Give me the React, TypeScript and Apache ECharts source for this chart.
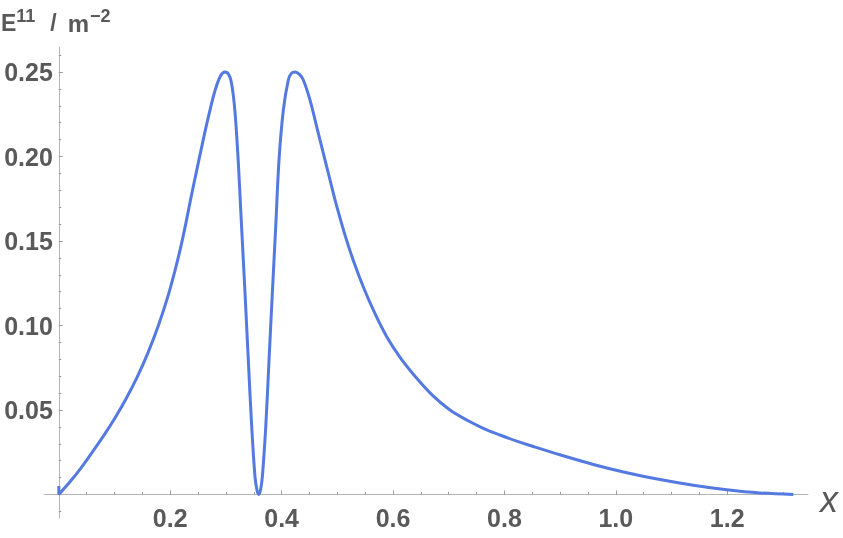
import React, { useEffect, useRef } from "react";
import * as echarts from "echarts";

const curveX = [
  0, 0, 0.02, 0.04, 0.06, 0.08, 0.1, 0.12, 0.14, 0.16, 0.18, 0.2, 0.22, 0.24, 0.26, 0.27,
  0.28, 0.29, 0.2984, 0.305, 0.31, 0.316, 0.322, 0.3266, 0.3312, 0.3343, 0.3402, 0.3463,
  0.3522, 0.3558, 0.3589, 0.362, 0.3654, 0.3715, 0.3774, 0.3833, 0.3894, 0.3953, 0.4031,
  0.412, 0.4175, 0.4241, 0.432, 0.439, 0.451, 0.463, 0.4749, 0.4869, 0.4989, 0.5138, 0.5287,
  0.5467, 0.5677, 0.5887, 0.6126, 0.6426, 0.6724, 0.7023, 0.7323, 0.7621, 0.7921, 0.8221,
  0.8519, 0.8998, 0.9596, 1.0196, 1.0794, 1.1391, 1.1991, 1.2589, 1.3187,
];
const curveY = [
  0.005, 0, 0.0075, 0.0158, 0.025, 0.0345, 0.0448, 0.0562, 0.069, 0.0838, 0.1012, 0.122,
  0.148, 0.18, 0.211, 0.2255, 0.2385, 0.2475, 0.25, 0.2485, 0.2435, 0.2275, 0.198, 0.1683,
  0.1388, 0.1191, 0.0796, 0.0401, 0.0105, 0.0025, 0, 0.0025, 0.0105, 0.0401, 0.0796, 0.1191,
  0.1585, 0.1979, 0.2275, 0.2453, 0.2492, 0.25, 0.2486, 0.2453, 0.2334, 0.2176, 0.2019,
  0.1861, 0.1706, 0.1535, 0.1385, 0.1228, 0.107, 0.0934, 0.0812, 0.0688, 0.0582, 0.05,
  0.0441, 0.0392, 0.0352, 0.0316, 0.0284, 0.0235, 0.0178, 0.0129, 0.0089, 0.0055, 0.0028,
  0.0009, 0,
];

const xMajor = [0.2, 0.4, 0.6, 0.8, 1.0, 1.2];
const xMinor = [0.05, 0.1, 0.15, 0.25, 0.3, 0.35, 0.45, 0.5, 0.55, 0.65, 0.7, 0.75, 0.85, 0.9, 0.95, 1.05, 1.1, 1.15, 1.25, 1.3];
const yMajor = [0.05, 0.1, 0.15, 0.2, 0.25];
const yMinor = [-0.01, 0.01, 0.02, 0.03, 0.04, 0.06, 0.07, 0.08, 0.09, 0.11, 0.12, 0.13, 0.14, 0.16, 0.17, 0.18, 0.19, 0.21, 0.22, 0.23, 0.24, 0.26];

const X_MIN = -0.0266;
const X_MAX = 1.345;
const Y_MIN = -0.0139;
const Y_MAX = 0.2648;

const FONT = "Liberation Sans";
const LABEL_COLOR = "#595959";
const AXIS_COLOR = "#b4b4b4";
const TICK_COLOR = "#9a9a9a";
const LINE_COLOR = "#5479e0";

// grid layout (pixels)
const GRID_LEFT = 44;
const GRID_RIGHT = 35;
const GRID_TOP = 47;
const GRID_BOTTOM = 20;
const X_AXIS_OFFSET = -23.5; // move x axis up to y = 0
const Y_AXIS_OFFSET = -14.8; // move y axis right to x = 0

export default function App() {
  const ref = useRef<HTMLDivElement>(null);
  useEffect(() => {
    if (!ref.current) return;
    const chart = echarts.init(ref.current, null, { renderer: "svg" });
    const data = curveX.map((x, i) => [x, curveY[i]]);
    const baseX = {
      type: "value",
      min: X_MIN,
      max: X_MAX,
      offset: X_AXIS_OFFSET,
      position: "bottom",
      splitLine: { show: false },
    };
    const baseY = {
      type: "value",
      min: Y_MIN,
      max: Y_MAX,
      offset: Y_AXIS_OFFSET,
      position: "left",
      splitLine: { show: false },
    };
    chart.setOption({
      animation: false,
      grid: { left: GRID_LEFT, right: GRID_RIGHT, top: GRID_TOP, bottom: GRID_BOTTOM, containLabel: false, outerBoundsMode: "none" },
      xAxis: [
        {
          ...baseX,
          axisLine: { show: true, onZero: false, lineStyle: { color: AXIS_COLOR, width: 1 } },
          axisTick: { show: true, inside: true, length: 4, customValues: xMajor, lineStyle: { color: TICK_COLOR } },
          axisLabel: {
            show: true,
            customValues: xMajor,
            formatter: (v: number) => v.toFixed(1),
            margin: 11,
            fontSize: 25,
            fontWeight: "bold",
            fontFamily: FONT,
            color: LABEL_COLOR,
          },
        },
        {
          ...baseX,
          axisLine: { show: true, onZero: false, lineStyle: { color: AXIS_COLOR, opacity: 0 } },
          axisTick: { show: true, inside: true, length: 2.5, customValues: xMinor, lineStyle: { color: TICK_COLOR } },
          axisLabel: { show: false },
        },
      ],
      yAxis: [
        {
          ...baseY,
          axisLine: { show: true, onZero: false, lineStyle: { color: AXIS_COLOR, width: 1 } },
          axisTick: { show: true, inside: true, length: 4, customValues: yMajor, lineStyle: { color: TICK_COLOR } },
          axisLabel: {
            show: true,
            customValues: yMajor,
            formatter: (v: number) => v.toFixed(2),
            margin: 6,
            fontSize: 25,
            fontWeight: "bold",
            fontFamily: FONT,
            color: LABEL_COLOR,
          },
        },
        {
          ...baseY,
          axisLine: { show: true, onZero: false, lineStyle: { color: AXIS_COLOR, opacity: 0 } },
          axisTick: { show: true, inside: true, length: 2.5, customValues: yMinor, lineStyle: { color: TICK_COLOR } },
          axisLabel: { show: false },
        },
      ],
      graphic: [
        {
          type: "text",
          left: 1,
          top: 1,
          style: {
            text: "{b|E}{s|11}{sl|/}{m|m}{s|−2}",
            rich: {
              b: { fontSize: 23, lineHeight: 23, fontWeight: "bold", fontFamily: FONT, fill: LABEL_COLOR, color: LABEL_COLOR, padding: [10, 0, 0, 0] },
              sl: { fontSize: 23, lineHeight: 23, fontWeight: "bold", fontFamily: FONT, fill: LABEL_COLOR, color: LABEL_COLOR, padding: [10, 0, 0, 15] },
              m: { fontSize: 24, lineHeight: 23, fontWeight: "bold", fontFamily: FONT, fill: LABEL_COLOR, color: LABEL_COLOR, padding: [10, 1, 0, 11] },
              s: { fontSize: 18, lineHeight: 18, fontWeight: "bold", fontFamily: FONT, fill: LABEL_COLOR, color: LABEL_COLOR, verticalAlign: "top" },
            },
          },
        },
        {
          type: "text",
          left: 820,
          top: 481,
          style: {
            text: "x",
            fontSize: 36,
            fontStyle: "italic",
            fontFamily: FONT,
            fill: LABEL_COLOR,
          },
        },
      ],
      series: [
        {
          type: "line",
          xAxisIndex: 0,
          yAxisIndex: 0,
          data,
          showSymbol: false,
          smooth: 0.35,
          lineStyle: { color: LINE_COLOR, width: 3 },
          itemStyle: { color: LINE_COLOR },
        },
      ],
    });
    return () => chart.dispose();
  }, []);
  return <div ref={ref} style={{ position: "fixed", left: 0, top: 0, width: 843, height: 538 }} />;
}
